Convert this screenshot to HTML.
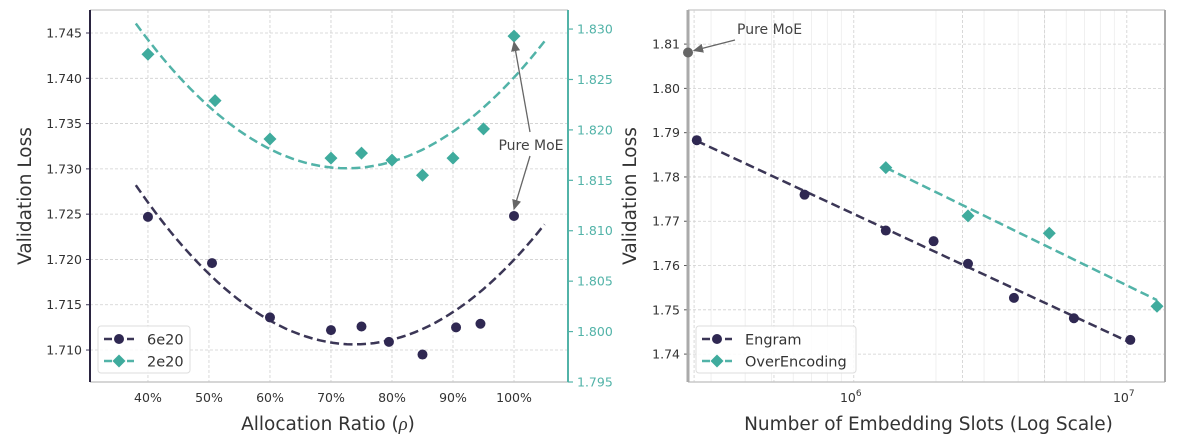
<!DOCTYPE html>
<html><head><meta charset="utf-8">
<style>
html,body{margin:0;padding:0;background:#fff;}
svg{display:block;font-family:"DejaVu Sans","Liberation Sans",sans-serif;}
</style></head>
<body>
<svg id="chart" width="1178" height="442" viewBox="0 0 1178 442" xmlns="http://www.w3.org/2000/svg">
<g id="left"></g>
<g id="right"></g>
</svg>
<script>
// ---- Left panel data ----
const ratioTicks = [0.4,0.5,0.6,0.7,0.8,0.9,1.0];
const ratioTickLabels = ["40%","50%","60%","70%","80%","90%","100%"];
const leftYTicks = [1.710,1.715,1.720,1.725,1.730,1.735,1.740,1.745];
const rightYTicks = [1.795,1.800,1.805,1.810,1.815,1.820,1.825,1.830];
const ratio6e20 = [0.40,0.505,0.60,0.70,0.75,0.795,0.85,0.905,0.945,1.00];
const loss6e20 = [1.7247,1.7196,1.7136,1.7122,1.7126,1.7109,1.7095,1.7125,1.7129,1.7248];
const ratio2e20 = [0.40,0.51,0.60,0.70,0.75,0.80,0.85,0.90,0.95,1.00];
const loss2e20 = [1.8275,1.8229,1.8191,1.8172,1.8177,1.8170,1.8155,1.8172,1.8201,1.8293];
// ---- Right panel data ----
const slotsTicks = [1e6,1e7];
const slotsTickExp = ["6","7"];
const slotsGrid = [2.6e5,5.1e5,1e6,2.5e6,5e6,1e7];
const lossTicksR = [1.74,1.75,1.76,1.77,1.78,1.79,1.80,1.81];
const engramSlots = [2.66e5,6.6e5,1.31e6,1.96e6,2.62e6,3.86e6,6.4e6,1.03e7];
const engramLoss = [1.7883,1.7760,1.7679,1.7655,1.7604,1.7527,1.7481,1.7432];
const overSlots = [1.31e6,2.62e6,5.2e6,1.29e7];
const overLoss = [1.7821,1.7712,1.7673,1.7508];
const pureMoeSlots = [2.47e5];
const pureMoeLoss = [1.8081];

const NS="http://www.w3.org/2000/svg";
const NAVY="#3b3656", NAVYM="#2f2852", TEAL="#52b3a8", TEALM="#3fab9d", GRID="#cfcfcf";
const DASH="9,4.5", LW=2.5;
function mk(parent,tag,attrs,text){const e=document.createElementNS(NS,tag);for(const k in attrs)e.setAttribute(k,attrs[k]);if(text!==undefined)e.textContent=text;parent.appendChild(e);return e;}
function quadFit(xs,ys){let n=xs.length,S=[0,0,0,0,0],T=[0,0,0];for(let i=0;i<n;i++){let p=1;for(let k=0;k<5;k++){S[k]+=p;if(k<3)T[k]+=p*ys[i];p*=xs[i];}}
 const M=[[S[0],S[1],S[2],T[0]],[S[1],S[2],S[3],T[1]],[S[2],S[3],S[4],T[2]]];
 for(let i=0;i<3;i++){for(let j=i+1;j<3;j++){const f=M[j][i]/M[i][i];for(let k=i;k<4;k++)M[j][k]-=f*M[i][k];}}
 const c=[0,0,0];for(let i=2;i>=0;i--){let s=M[i][3];for(let k=i+1;k<3;k++)s-=M[i][k]*c[k];c[i]=s/M[i][i];}return c;}
function linFit(xs,ys){const n=xs.length;let mx=0,my=0;for(let i=0;i<n;i++){mx+=xs[i];my+=ys[i];}mx/=n;my/=n;let a=0,b=0;for(let i=0;i<n;i++){a+=(xs[i]-mx)*(ys[i]-my);b+=(xs[i]-mx)**2;}const s=a/b;return [my-s*mx,s];}
function diamond(g,cx,cy,r,fill){return mk(g,"polygon",{points:`${cx},${cy-r} ${cx+r},${cy} ${cx},${cy+r} ${cx-r},${cy}`,fill:fill});}

// ===== LEFT PANEL =====
(function(){
const g=document.getElementById("left");
const L=90,R=568,T=10,B=382;
const xmin=0.305,xmax=1.0885, ylmin=1.70647,ylmax=1.74754, yrmin=1.795,yrmax=1.83189;
const X=v=>L+(v-xmin)/(xmax-xmin)*(R-L);
const YL=v=>B-(v-ylmin)/(ylmax-ylmin)*(B-T);
const YR=v=>B-(v-yrmin)/(yrmax-yrmin)*(B-T);
ratioTicks.forEach((t,i)=>{
 const gl=mk(g,"line",{x1:X(t),x2:X(t),y1:T,y2:B,stroke:GRID,"stroke-dasharray":"3,2","stroke-width":0.8});
 
 
 const tl=mk(g,"text",{x:X(t),y:B+20,"text-anchor":"middle","font-size":12.5,fill:"#333"},ratioTickLabels[i]);
 
 
});
leftYTicks.forEach(t=>{
 const gl=mk(g,"line",{x1:L,x2:R,y1:YL(t),y2:YL(t),stroke:GRID,"stroke-dasharray":"3,2","stroke-width":0.8});
 
 
 const tl=mk(g,"text",{x:L-8,y:YL(t)+4.5,"text-anchor":"end","font-size":12.5,fill:"#333"},t.toFixed(3));
 
 
 mk(g,"line",{x1:L-4,x2:L,y1:YL(t),y2:YL(t),stroke:NAVY});
});
rightYTicks.forEach(t=>{
 mk(g,"line",{x1:R,x2:R+5,y1:YR(t),y2:YR(t),stroke:TEAL,"stroke-width":1.2});
 const tl=mk(g,"text",{x:R+9,y:YR(t)+4.5,"font-size":12.5,fill:TEAL},t.toFixed(3));
 
 
});
mk(g,"line",{x1:L,x2:R,y1:T,y2:T,stroke:"#d0d0d0","stroke-width":1.5});
mk(g,"line",{x1:L,x2:R,y1:B,y2:B,stroke:"#c8c8c8","stroke-width":1.5});
const ls=mk(g,"line",{x1:L,x2:L,y1:T,y2:B,stroke:"#2a2440","stroke-width":2});


const rs=mk(g,"line",{x1:R,x2:R,y1:T,y2:B,stroke:TEAL,"stroke-width":2});


function fitPath(xs,ys,Y,x0,x1){const c=quadFit(xs,ys);let d="";for(let i=0;i<=60;i++){const x=x0+(x1-x0)*i/60;const y=c[0]+c[1]*x+c[2]*x*x;d+=(i?"L":"M")+X(x).toFixed(1)+","+Y(y).toFixed(1);}return d;}
const f1=mk(g,"path",{d:fitPath(ratio6e20,loss6e20,YL,0.38,1.05),fill:"none",stroke:NAVY,"stroke-width":LW,"stroke-dasharray":DASH});


const f2=mk(g,"path",{d:fitPath(ratio2e20,loss2e20,YR,0.38,1.05),fill:"none",stroke:TEAL,"stroke-width":LW,"stroke-dasharray":DASH});


ratio6e20.forEach((x,i)=>{
 const c=mk(g,"circle",{cx:X(x),cy:YL(loss6e20[i]),r:5,fill:NAVYM});
 
 
});
ratio2e20.forEach((x,i)=>{
 const d=diamond(g,X(x),YR(loss2e20[i]),6.5,TEALM);
 
 
});
const ax=X(1.0), ay1=YR(loss2e20[9])+6, ay2=YL(loss6e20[9])-7;
mk(g,"defs",{}).innerHTML='<marker id="ah" markerWidth="8" markerHeight="8" refX="7" refY="4" orient="auto"><path d="M0,0.5 L8,4 L0,7.5 z" fill="#666"/></marker>';
const a1=mk(g,"line",{x1:530,y1:132,x2:ax,y2:ay1,stroke:"#666","stroke-width":1.3,"marker-end":"url(#ah)"});


const a2=mk(g,"line",{x1:530,y1:156,x2:ax,y2:ay2,stroke:"#666","stroke-width":1.3,"marker-end":"url(#ah)"});


const at=mk(g,"text",{x:531,y:150,"text-anchor":"middle","font-size":14,fill:"#444"},"Pure MoE");


const yt=mk(g,"text",{x:0,y:0,transform:`translate(31,${(T+B)/2}) rotate(-90)`,"text-anchor":"middle","font-size":18.5,fill:"#333"},"Validation Loss");


const xt=mk(g,"text",{x:(L+R)/2-1,y:430,"text-anchor":"middle","font-size":18.5,fill:"#333"});
xt.innerHTML='Allocation Ratio (<tspan font-family="Liberation Serif" font-style="italic">ρ</tspan>)';


const lg=mk(g,"g",{});


mk(lg,"rect",{x:98,y:326,width:92,height:47,rx:3,fill:"#fff","fill-opacity":0.85,stroke:"#ddd"});
const e1=mk(lg,"g",{});


mk(e1,"line",{x1:104,x2:134,y1:339,y2:339,stroke:NAVY,"stroke-width":LW,"stroke-dasharray":"8,3.5"});
mk(e1,"circle",{cx:119,cy:339,r:5,fill:NAVYM});
mk(e1,"text",{x:147,y:344.5,"font-size":14.5,fill:"#333"},"6e20");
const e2=mk(lg,"g",{});


mk(e2,"line",{x1:104,x2:134,y1:361,y2:361,stroke:TEAL,"stroke-width":LW,"stroke-dasharray":"8,3.5"});
diamond(e2,119,361,6.5,TEALM);
mk(e2,"text",{x:147,y:366.5,"font-size":14.5,fill:"#333"},"2e20");
})();

// ===== RIGHT PANEL =====
(function(){
const g=document.getElementById("right");
const L=688,R=1165,T=10,B=382;
const lxmin=Math.log10(2.47e5), lxmax=Math.log10(1.38e7), ymin=1.7337, ymax=1.8177;
const X=v=>L+(Math.log10(v)-lxmin)/(lxmax-lxmin)*(R-L);
const Y=v=>B-(v-ymin)/(ymax-ymin)*(B-T);
for(let e=5;e<=7;e++)for(let m=2;m<=9;m++){const v=m*Math.pow(10,e);if(X(v)>L&&X(v)<R){mk(g,"line",{x1:X(v),x2:X(v),y1:T,y2:B,stroke:"#ececec","stroke-width":0.8});}}
slotsGrid.forEach(v=>{
 const gl=mk(g,"line",{x1:X(v),x2:X(v),y1:T,y2:B,stroke:GRID,"stroke-dasharray":"3,2","stroke-width":0.8});
 
 
});
lossTicksR.forEach(t=>{
 const gl=mk(g,"line",{x1:L,x2:R,y1:Y(t),y2:Y(t),stroke:GRID,"stroke-dasharray":"3,2","stroke-width":0.8});
 
 
 mk(g,"line",{x1:L-4,x2:L,y1:Y(t),y2:Y(t),stroke:"#555"});
 const tl=mk(g,"text",{x:L-8,y:Y(t)+4.5,"text-anchor":"end","font-size":12.5,fill:"#333"},t.toFixed(2));
 
 
});
slotsTicks.forEach((v,i)=>{
 const tl=mk(g,"text",{x:X(v)-3,y:B+20,"text-anchor":"middle","font-size":12.5,fill:"#333"});
 tl.innerHTML='10<tspan dy="-6" font-size="9">'+slotsTickExp[i]+'</tspan>';
 
 
});
mk(g,"line",{x1:L,x2:R,y1:T,y2:T,stroke:"#d0d0d0","stroke-width":1.5});
mk(g,"line",{x1:L,x2:R,y1:B,y2:B,stroke:"#c8c8c8","stroke-width":1.5});
const ls=mk(g,"line",{x1:L,x2:L,y1:T,y2:B,stroke:"#aaa","stroke-width":3});


mk(g,"line",{x1:R,x2:R,y1:T,y2:B,stroke:"#aaa","stroke-width":2});
function linePath(xs,ys,x0,x1){const lx=xs.map(v=>Math.log10(v));const c=linFit(lx,ys);const a=Math.log10(x0),b=Math.log10(x1);return `M${X(x0)},${Y(c[0]+c[1]*a)} L${X(x1)},${Y(c[0]+c[1]*b)}`;}
const f1=mk(g,"path",{d:linePath(engramSlots,engramLoss,engramSlots[0],engramSlots[engramSlots.length-1]),stroke:NAVY,"stroke-width":LW,"stroke-dasharray":DASH,fill:"none"});


const f2=mk(g,"path",{d:linePath(overSlots,overLoss,overSlots[0],overSlots[overSlots.length-1]),stroke:TEAL,"stroke-width":LW,"stroke-dasharray":DASH,fill:"none"});


engramSlots.forEach((x,i)=>{
 const c=mk(g,"circle",{cx:X(x),cy:Y(engramLoss[i]),r:5,fill:NAVYM});
 
 
});
overSlots.forEach((x,i)=>{
 const d=diamond(g,X(x),Y(overLoss[i]),6.5,TEALM);
 
 
});
const pm=mk(g,"circle",{cx:X(pureMoeSlots[0]),cy:Y(pureMoeLoss[0]),r:5,fill:"#666"});


mk(g,"defs",{}).innerHTML='<marker id="ah2" markerWidth="8" markerHeight="8" refX="7" refY="4" orient="auto"><path d="M0,0.5 L8,4 L0,7.5 z" fill="#666"/></marker>';
const ar=mk(g,"line",{x1:735,y1:40,x2:X(pureMoeSlots[0])+6,y2:Y(pureMoeLoss[0])-2,stroke:"#666","stroke-width":1.3,"marker-end":"url(#ah2)"});


const at=mk(g,"text",{x:737,y:34,"font-size":14,fill:"#444"},"Pure MoE");


const yt=mk(g,"text",{x:0,y:0,transform:`translate(636,${(T+B)/2}) rotate(-90)`,"text-anchor":"middle","font-size":18.5,fill:"#333"},"Validation Loss");


const xt=mk(g,"text",{x:(L+R)/2+2,y:430,"text-anchor":"middle","font-size":18.5,fill:"#333"},"Number of Embedding Slots (Log Scale)");


const lg=mk(g,"g",{});


mk(lg,"rect",{x:696,y:326,width:160,height:47,rx:3,fill:"#fff","fill-opacity":0.85,stroke:"#ddd"});
const e1=mk(lg,"g",{});


mk(e1,"line",{x1:702,x2:732,y1:339,y2:339,stroke:NAVY,"stroke-width":LW,"stroke-dasharray":"8,3.5"});
mk(e1,"circle",{cx:717,cy:339,r:5,fill:NAVYM});
mk(e1,"text",{x:745,y:344.5,"font-size":14.5,fill:"#333"},"Engram");
const e2=mk(lg,"g",{});


mk(e2,"line",{x1:702,x2:732,y1:361,y2:361,stroke:TEAL,"stroke-width":LW,"stroke-dasharray":"8,3.5"});
diamond(e2,717,361,6.5,TEALM);
mk(e2,"text",{x:745,y:366.5,"font-size":14.5,fill:"#333"},"OverEncoding");
})();
</script>
</body></html>
